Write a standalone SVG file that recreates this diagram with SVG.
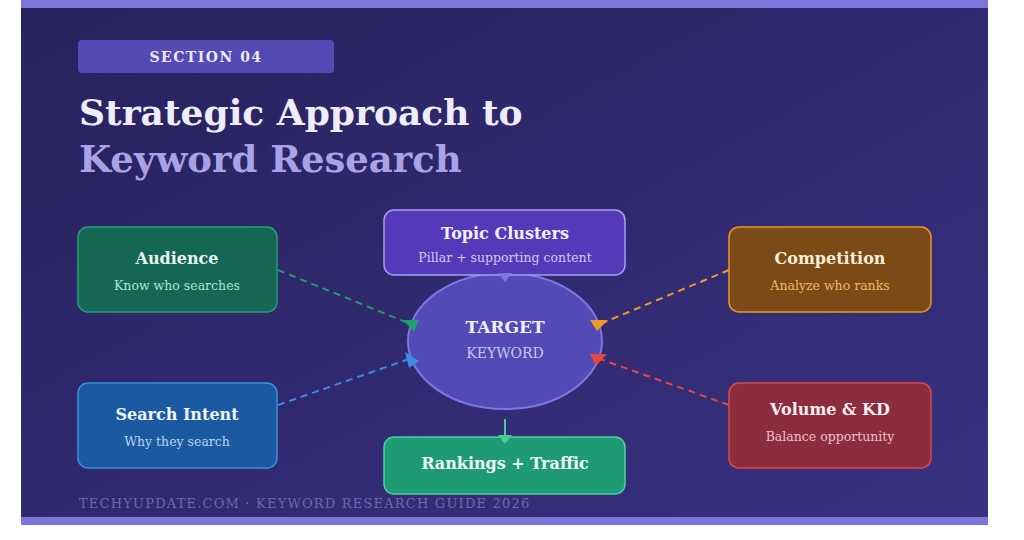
<svg xmlns="http://www.w3.org/2000/svg" width="1024" height="540" viewBox="0 0 1024 540">
<defs>
<linearGradient id="bg" x1="0" y1="0" x2="1" y2="1">
<stop offset="0" stop-color="#27215c"/>
<stop offset="1" stop-color="#3a3182"/>
</linearGradient>
</defs>
<style>
.serif{font-family:"DejaVu Serif","Liberation Serif",serif}
.title{font-size:16px;font-weight:bold;text-anchor:middle}
.sub{font-size:12.5px;text-anchor:middle}
.dash{fill:none;stroke-width:2;stroke-dasharray:7 5}
.box{stroke-width:1.5}
</style>
<rect x="0" y="0" width="1024" height="540" fill="#ffffff"/>
<rect x="21" y="0" width="967" height="525" fill="url(#bg)"/>
<rect x="21" y="0" width="967" height="8" fill="#7c75dc"/>
<rect x="21" y="517" width="967" height="8" fill="#7c75dc"/>

<g id="header">
<rect x="78" y="40" width="256" height="33" rx="4" fill="#534ab6"/>
<text x="206" y="62" class="serif" font-size="14" font-weight="bold" fill="#ebe9fb" text-anchor="middle" letter-spacing="1.5">SECTION 04</text>
<text x="79" y="125" class="serif" font-size="36" font-weight="bold" fill="#efedfb">Strategic Approach to</text>
<text x="79" y="172" class="serif" font-size="37" font-weight="bold" fill="#a9a2e6">Keyword Research</text>
</g>

<g id="target">
<ellipse cx="505" cy="341" rx="97" ry="68" fill="#524ab6" stroke="#7f77e2" stroke-width="2"/>
<text x="505" y="333" class="serif" font-size="17" font-weight="bold" fill="#f0eefc" text-anchor="middle">TARGET</text>
<text x="505" y="358" class="serif" font-size="14" fill="#c9c4f2" text-anchor="middle">KEYWORD</text>
</g>

<g id="topic-clusters">
<rect x="384" y="210" width="241" height="65" rx="10" class="box" fill="#5439b8" stroke="#a79ff0"/>
<text x="505" y="239" class="serif title" fill="#f1effc">Topic Clusters</text>
<text x="505" y="262" class="serif sub" fill="#cfc9f5">Pillar + supporting content</text>
</g>

<g id="audience">
<rect x="78" y="227" width="199" height="85" rx="10" class="box" fill="#166656" stroke="#22a07a"/>
<text x="177" y="264" class="serif title" fill="#eaf6ef">Audience</text>
<text x="177" y="290" class="serif sub" fill="#a8e6c8">Know who searches</text>
</g>

<g id="competition">
<rect x="729" y="227" width="202" height="85" rx="10" class="box" fill="#7a4a17" stroke="#e8982a"/>
<text x="830" y="264" class="serif title" fill="#fbeed8">Competition</text>
<text x="830" y="290" class="serif sub" fill="#f0b860">Analyze who ranks</text>
</g>

<g id="search-intent">
<rect x="78" y="383" width="199" height="85" rx="10" class="box" fill="#1b5aa0" stroke="#3a8ee0"/>
<text x="177" y="420" class="serif title" fill="#f2f6fc">Search Intent</text>
<text x="177" y="446" class="serif sub" fill="#b8d4f4">Why they search</text>
</g>

<g id="volume-kd">
<rect x="729" y="383" width="202" height="85" rx="10" class="box" fill="#8b2d3d" stroke="#d84a4a"/>
<text x="830" y="415" class="serif title" fill="#fbeef0">Volume &amp; KD</text>
<text x="830" y="441" class="serif sub" fill="#f0c0c8">Balance opportunity</text>
</g>

<g id="rankings">
<rect x="384" y="437" width="241" height="57" rx="10" class="box" fill="#1e9b74" stroke="#4fd0a0"/>
<text x="505" y="469" class="serif title" fill="#eefaf4">Rankings + Traffic</text>
</g>

<g id="connectors">
<line x1="278" y1="270" x2="408" y2="323" class="dash" stroke="#1f9e72"/>
<polygon points="403,320 419,320 414,332" fill="#1f9e72"/>
<line x1="278" y1="405" x2="409" y2="359" class="dash" stroke="#3a8de0"/>
<polygon points="405,352 419,361 409,368" fill="#3a8de0"/>
<line x1="729" y1="270" x2="600" y2="324" class="dash" stroke="#eb9a25"/>
<polygon points="590,320 608,320 597,331" fill="#eb9a25"/>
<line x1="729" y1="405" x2="600" y2="359" class="dash" stroke="#e04a45"/>
<polygon points="590,354 607,354 596,366" fill="#e04a45"/>
<line x1="505" y1="419" x2="505" y2="436" fill="none" stroke="#4fc89a" stroke-width="2"/>
<polygon points="498,435 512,435 505,444" fill="#4fc89a"/>
<polygon points="498,273 512,273 505,282" fill="#7e76e0"/>
</g>

<text x="79" y="508" class="serif" font-size="13" fill="#6f69a8" letter-spacing="1.2">TECHYUPDATE.COM · KEYWORD RESEARCH GUIDE 2026</text>
</svg>
